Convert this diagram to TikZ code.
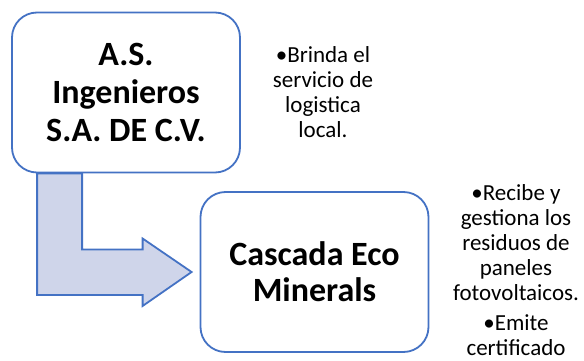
\documentclass[tikz,border=0pt]{standalone}
\usepackage{fontspec}
\setmainfont{Carlito}
\definecolor{smartblue}{HTML}{4472C4}
\definecolor{smartfill}{HTML}{CFD5EA}

\begin{document}
\begin{tikzpicture}[
    x=1pt, y=1pt,
    entity/.style={rectangle, rounded corners=25pt, draw=smartblue, fill=white,
        line width=1.8pt, align=center, minimum width=228pt, minimum height=160pt,
        inner sep=0pt, font=\bfseries\fontsize{34}{38}\selectfont},
    note/.style={align=center, inner sep=0pt, font=\fontsize{23}{25}\selectfont},
    bentarrow/.style={draw=smartblue, fill=smartfill, line width=1.8pt, line join=miter}
]
\useasboundingbox (0,0) rectangle (584,360);

\node [entity] (asing) at (126,267.5) {A.S.\\Ingenieros\\S.A. DE C.V.};
\node [entity, font=\bfseries\fontsize{34}{36}\selectfont] (cascada) at (314.5,88) {Cascada Eco\\Minerals};

\node [note] (brinda) at (323,268) {•Brinda el\\servicio de\\logistica\\local.};
\node [note] (recibe) at (516,90) {•Recibe y\\gestiona los\\residuos de\\paneles\\fotovoltaicos.\\[5pt]•Emite\\certificado};

% flecha doblada entre las dos empresas
\coordinate (root) at ([xshift=26pt]asing.south west);
\coordinate (tip) at ([xshift=-8pt]cascada.west);
\draw [bentarrow] (root) -- ++(45,0) |- ([shift={(-49pt,22.5pt)}]tip) -- ++(0,11)
    -- (tip) -- ++(-49,-34) -- ++(0,11) -| (root) -- cycle;

\end{tikzpicture}
\end{document}
